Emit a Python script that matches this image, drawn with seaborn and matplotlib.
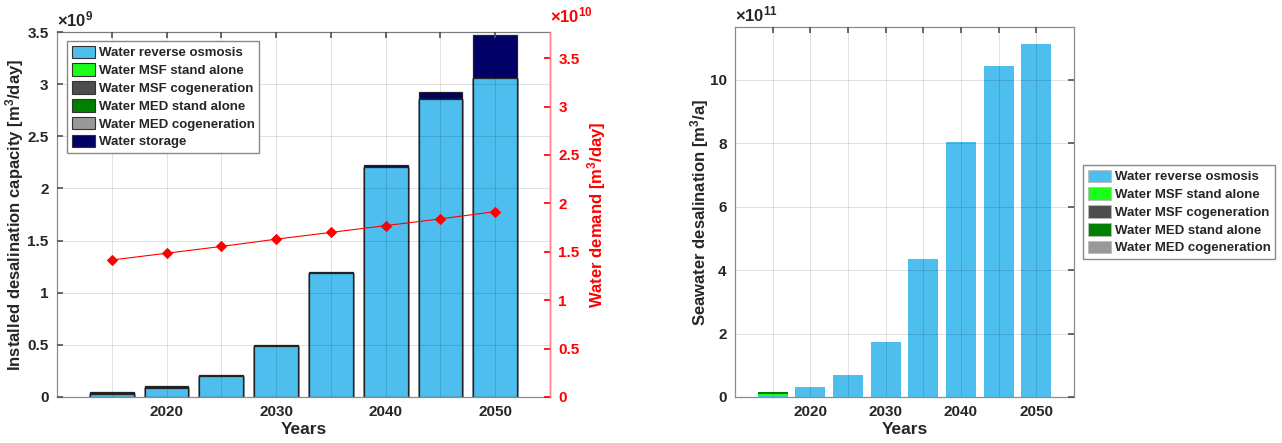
import numpy as np
import pandas as pd
import matplotlib
matplotlib.use("Agg")
import matplotlib.pyplot as plt
import seaborn as sns
from matplotlib.patches import Patch
from matplotlib.ticker import FuncFormatter, FixedLocator

# ---------------- data ----------------
years = [2015, 2020, 2025, 2030, 2035, 2040, 2045, 2050]
tech_names = ["Water reverse osmosis", "Water MSF stand alone", "Water MSF cogeneration",
              "Water MED stand alone", "Water MED cogeneration", "Water storage"]

# installed capacity [m3/day]
cap_ro      = [0.030e9, 0.090e9, 0.198e9, 0.488e9, 1.188e9, 2.205e9, 2.860e9, 3.060e9]
cap_msf_sa  = [0.002e9, 0.000e9, 0.000e9, 0.000e9, 0.000e9, 0.000e9, 0.000e9, 0.000e9]
cap_msf_cg  = [0.006e9, 0.002e9, 0.001e9, 0.000e9, 0.000e9, 0.000e9, 0.000e9, 0.000e9]
cap_med_sa  = [0.003e9, 0.001e9, 0.000e9, 0.000e9, 0.000e9, 0.000e9, 0.000e9, 0.000e9]
cap_med_cg  = [0.001e9, 0.000e9, 0.000e9, 0.000e9, 0.000e9, 0.000e9, 0.000e9, 0.000e9]
cap_storage = [0.004e9, 0.008e9, 0.010e9, 0.015e9, 0.012e9, 0.015e9, 0.060e9, 0.410e9]

# water demand [m3/day]
demand = [1.415e10, 1.485e10, 1.555e10, 1.63e10, 1.70e10, 1.77e10, 1.84e10, 1.915e10]

# seawater desalination [m3/a]
sea_ro     = [0.07e11, 0.32e11, 0.70e11, 1.75e11, 4.35e11, 8.05e11, 10.45e11, 11.12e11]
sea_msf_sa = [0.04e11, 0.00e11, 0.00e11, 0.00e11, 0.00e11, 0.00e11, 0.00e11, 0.00e11]
sea_msf_cg = [0.00e11, 0.00e11, 0.00e11, 0.00e11, 0.00e11, 0.00e11, 0.00e11, 0.00e11]
sea_med_sa = [0.04e11, 0.00e11, 0.00e11, 0.00e11, 0.00e11, 0.00e11, 0.00e11, 0.00e11]
sea_med_cg = [0.00e11, 0.00e11, 0.00e11, 0.00e11, 0.00e11, 0.00e11, 0.00e11, 0.00e11]

colors = ["#4DBEEE", "#1AFF1A", "#4D4D4D", "#007F00", "#999999", "#000066"]

# ---------------- style ----------------
sns.set_theme(style="white")
plt.rcParams["font.family"] = ["Liberation Sans", "DejaVu Sans"]
plt.rcParams["font.weight"] = "bold"
plt.rcParams["axes.labelweight"] = "bold"
plt.rcParams["mathtext.fontset"] = "custom"
plt.rcParams["mathtext.rm"] = "Liberation Sans:bold"
plt.rcParams["mathtext.bf"] = "Liberation Sans:bold"
plt.rcParams["mathtext.it"] = "Liberation Sans:bold"
plt.rcParams["mathtext.default"] = "rm"

fig = plt.figure(figsize=(12.82, 4.43), dpi=100)
W, H = 1282, 443
ax1 = fig.add_axes([57 / W, 1 - 397 / H, (550 - 57) / W, (397 - 32) / H])
ax3 = fig.add_axes([735 / W, 1 - 397 / H, (1074 - 735) / W, (397 - 27) / H])

spine_col = "#8c8c8c"
tick_fs = 11


def style_axis(ax):
    for s in ax.spines.values():
        s.set_color(spine_col)
        s.set_linewidth(0.9)
    ax.set_axisbelow(False)
    ax.grid(True, color="black", alpha=0.12, linewidth=0.7)
    ax.tick_params(direction="in", length=4, color="#555555", top=True,
                   labelsize=tick_fs, pad=6)
    ax.xaxis.set_major_locator(FixedLocator(years))
    ax.xaxis.set_major_formatter(FuncFormatter(lambda v, p: f"{int(round(v))}" if int(round(v)) % 10 == 0 else ""))
    ax.set_xlim(2010, 2055)
    for lab in ax.get_xticklabels() + ax.get_yticklabels():
        lab.set_fontweight("bold")
    ax.set_xlabel("Years", fontsize=12.5, fontweight="bold", labelpad=2)


def stacked(ax, layers, cols, edge):
    cum = np.cumsum(np.array(layers, dtype=float), axis=0)
    for i in range(len(layers) - 1, -1, -1):
        df = pd.DataFrame({"year": years, "val": cum[i]})
        sns.barplot(data=df, x="year", y="val", native_scale=True, width=0.8,
                    color=cols[i], saturation=1, edgecolor=edge,
                    linewidth=0.9 if edge != "none" else 0, ax=ax, zorder=2)


# ---------------- left chart ----------------
stacked(ax1, [cap_ro, cap_msf_sa, cap_msf_cg, cap_med_sa, cap_med_cg, cap_storage], colors, "#222222")
ax1.set_ylim(0, 3.5e9)
ax1.yaxis.set_major_locator(FixedLocator(np.arange(0, 3.51e9, 0.5e9)))
ax1.yaxis.set_major_formatter(FuncFormatter(lambda v, p: f"{v / 1e9:g}"))
style_axis(ax1)
ax1.tick_params(axis="y", right=False)
ax1.set_ylabel("Installed desalination capacity [m$^{3}$/day]", fontsize=12, labelpad=1)
ax1.text(0, 1.008, r"$\times$10$^{9}$", transform=ax1.transAxes, ha="left", va="bottom",
         fontsize=12)

ax2 = ax1.twinx()
dem_df = pd.DataFrame({"year": years, "demand": demand})
sns.lineplot(data=dem_df, x="year", y="demand", ax=ax2, color="red", linewidth=0.8,
             marker="D", markersize=5.5, markeredgecolor="red", markerfacecolor="red")
ax2.set_ylim(0, 3.77e10)
ax2.set_xlim(2010, 2055)
ax2.yaxis.set_major_locator(FixedLocator(np.arange(0, 3.51e10, 0.5e10)))
ax2.yaxis.set_major_formatter(FuncFormatter(lambda v, p: f"{v / 1e10:g}"))
for s in ["left", "top", "bottom"]:
    ax2.spines[s].set_visible(False)
ax2.spines["right"].set_color("#ff8080")
ax2.spines["right"].set_linewidth(1.0)
ax2.tick_params(axis="y", direction="in", length=4, colors="red", labelsize=tick_fs, pad=6)
for lab in ax2.get_yticklabels():
    lab.set_fontweight("bold")
ax2.set_ylabel("Water demand [m$^{3}$/day]", color="red", fontsize=12, labelpad=4)
ax2.set_xlabel("")
ax2.text(1.0, 1.018, r"$\times$10$^{10}$", transform=ax2.transAxes, ha="left", va="bottom",
         fontsize=12, color="red")

handles1 = [Patch(facecolor=c, edgecolor="#333333", linewidth=0.8, label=n)
            for c, n in zip(colors, tech_names)]
leg1 = ax1.legend(handles=handles1, loc="upper left", bbox_to_anchor=(10 / 493, 1 - 9 / 365),
                  borderaxespad=0, fontsize=9.5, frameon=True, fancybox=False,
                  edgecolor="#888888", framealpha=1, handlelength=1.75, handleheight=1.1,
                  handletextpad=0.3, labelspacing=0.3, borderpad=0.35)
for t in leg1.get_texts():
    t.set_fontweight("bold")
leg1.set_zorder(10)

# ---------------- right chart ----------------
stacked(ax3, [sea_ro, sea_msf_sa, sea_msf_cg, sea_med_sa, sea_med_cg], colors[:5], "none")
ax3.set_ylim(0, 11.67e11)
ax3.yaxis.set_major_locator(FixedLocator(np.arange(0, 10.1e11, 2e11)))
ax3.yaxis.set_major_formatter(FuncFormatter(lambda v, p: f"{v / 1e11:g}"))
style_axis(ax3)
ax3.tick_params(axis="y", right=True)
ax3.set_ylabel("Seawater desalination [m$^{3}$/a]", fontsize=12, labelpad=-1)
ax3.text(0, 1.008, r"$\times$10$^{11}$", transform=ax3.transAxes, ha="left", va="bottom",
         fontsize=12)

handles2 = [Patch(facecolor=c, edgecolor="#bbbbbb", linewidth=0.6, label=n)
            for c, n in zip(colors[:5], tech_names[:5])]
leg2 = fig.legend(handles=handles2, loc="center left", bbox_to_anchor=(1083 / W, 1 - 212 / H),
                  borderaxespad=0, fontsize=9.5, frameon=True, fancybox=False,
                  edgecolor="#888888", framealpha=1, handlelength=1.75, handleheight=1.1,
                  handletextpad=0.3, labelspacing=0.3, borderpad=0.35)
for t in leg2.get_texts():
    t.set_fontweight("bold")

fig.savefig("out.png", dpi=100, facecolor="white")
